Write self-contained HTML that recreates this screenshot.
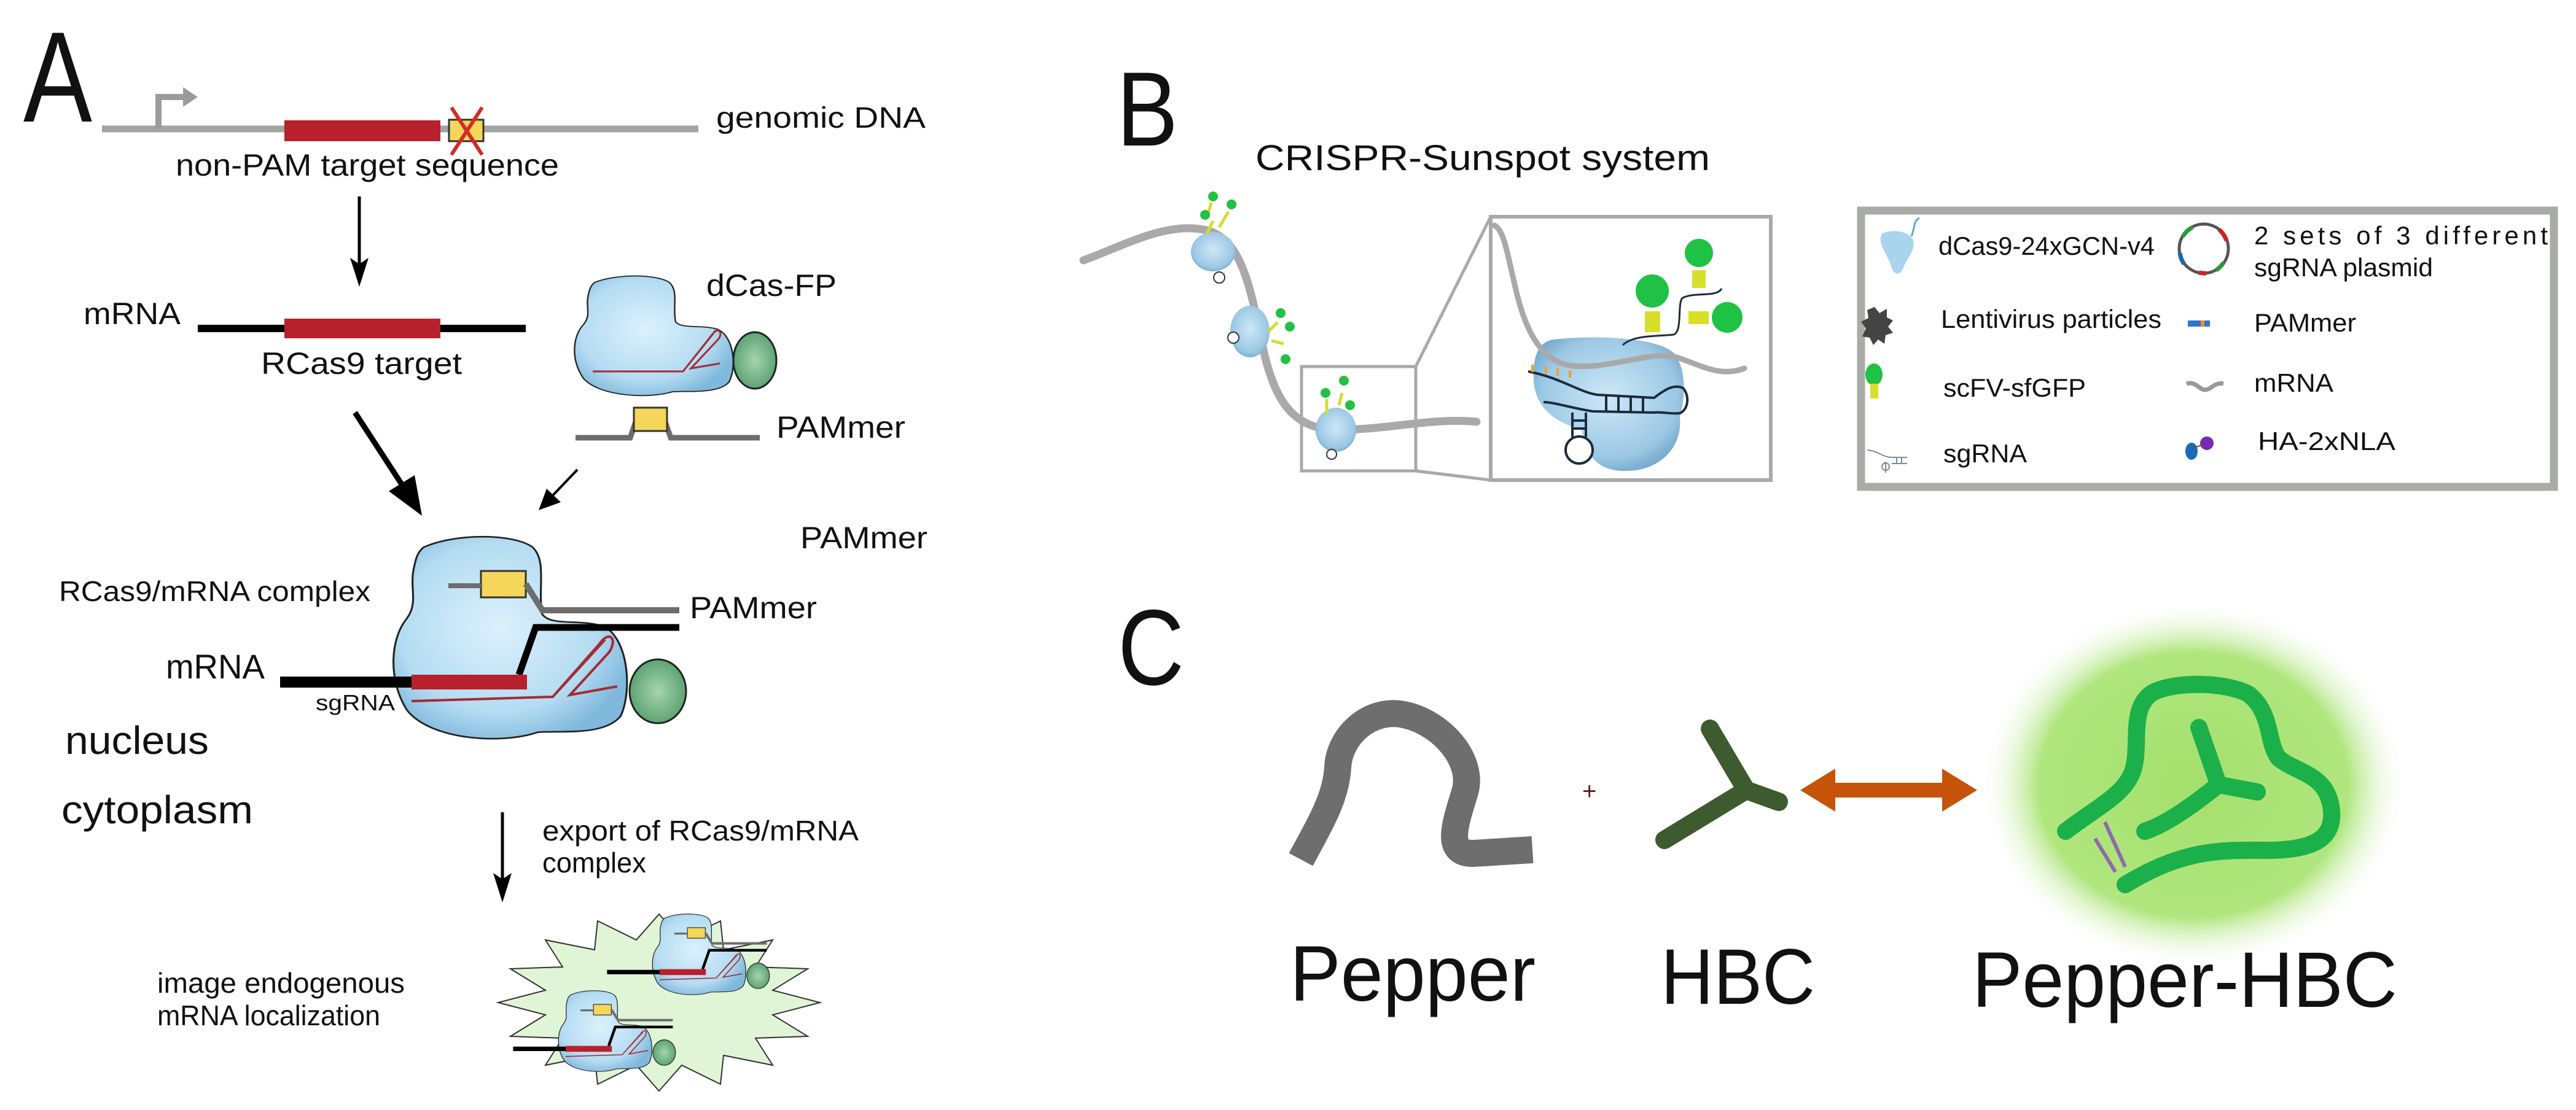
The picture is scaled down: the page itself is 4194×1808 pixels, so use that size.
<!DOCTYPE html>
<html><head><meta charset="utf-8"><style>
html,body{margin:0;padding:0;background:#fff}
svg{display:block}
text{font-family:"Liberation Sans",Arial,sans-serif;fill:#111}
</style></head><body>
<svg width="4194" height="1808" viewBox="0 0 4194 1808" xmlns="http://www.w3.org/2000/svg">
<defs>
<radialGradient id="blu" cx="0.45" cy="0.45" r="0.6">
<stop offset="0" stop-color="#dcf1fc"/><stop offset="0.7" stop-color="#b4dcf2"/><stop offset="1" stop-color="#7fb8dc"/></radialGradient>
<radialGradient id="blu2" cx="0.5" cy="0.45" r="0.6">
<stop offset="0" stop-color="#cde8f8"/><stop offset="0.75" stop-color="#9cc8e4"/><stop offset="1" stop-color="#6fa5cc"/></radialGradient>
<radialGradient id="grn" cx="0.5" cy="0.5" r="0.6">
<stop offset="0" stop-color="#a6d4b0"/><stop offset="1" stop-color="#4f9a66"/></radialGradient>
<radialGradient id="glow" cx="0.5" cy="0.5" r="0.5">
<stop offset="0" stop-color="#a4e06c"/><stop offset="0.72" stop-color="#b0e67e"/><stop offset="1" stop-color="#ffffff" stop-opacity="0"/></radialGradient>
<path id="blob" d="M12,5 C25,-2 50,-2 58,5 C64,12 60,25 62,38 C66,44 78,40 88,44 C98,50 100,75 95,88 C88,98 70,95 60,96 C45,102 15,100 5,85 C-3,70 -2,50 5,40 C10,32 6,25 8,15 C9,9 10,7 12,5 Z"/>
<g id="cx">
<use href="#blob" transform="translate(643,875) scale(3.87,3.31)" fill="url(#blu)" stroke="#222" stroke-width="0.8"/>
<ellipse cx="1071" cy="1126" rx="46" ry="52" fill="url(#grn)" stroke="#222" stroke-width="3"/>
<rect x="783" y="930" width="73" height="43" fill="#f4d65a" stroke="#333" stroke-width="3"/>
<line x1="730" y1="954" x2="783" y2="954" stroke="#6d6d6d" stroke-width="8"/>
<polyline points="856,951 883,994 1106,994" fill="none" stroke="#6d6d6d" stroke-width="10"/>
<polyline points="845,1099 872,1022 1106,1022" fill="none" stroke="#000" stroke-width="11"/>
<line x1="456" y1="1111" x2="672" y2="1111" stroke="#000" stroke-width="18"/>
<rect x="670" y="1099" width="188" height="24" fill="#b8202c"/>
<path d="M670,1142 L900,1135 L975,1050 C992,1025 1006,1040 992,1062 L928,1132 L1005,1118 M900,1135 L985,1042" fill="none" stroke="#a52a35" stroke-width="4"/>
</g>
</defs>

<!-- PANEL A -->
<text x="38" y="198" font-size="210" textLength="112" lengthAdjust="spacingAndGlyphs">A</text>
<line x1="166" y1="210" x2="1137" y2="210" stroke="#a2a4a2" stroke-width="11"/>
<path d="M258,210 L258,158 L303,158" fill="none" stroke="#9a9c9a" stroke-width="10"/>
<polygon points="298,142 322,158 298,174" fill="#9a9c9a"/>
<rect x="463" y="196" width="254" height="34" fill="#b8202c"/>
<rect x="731" y="195" width="56" height="35" fill="#f4d65a" stroke="#333" stroke-width="3"/>
<line x1="735" y1="175" x2="785" y2="252" stroke="#d42a2a" stroke-width="6"/>
<line x1="785" y1="175" x2="735" y2="252" stroke="#d42a2a" stroke-width="6"/>
<text x="1166" y="208" font-size="48" textLength="341" lengthAdjust="spacingAndGlyphs">genomic DNA</text>
<text x="286" y="286" font-size="50" textLength="624" lengthAdjust="spacingAndGlyphs">non-PAM target sequence</text>
<line x1="585" y1="320" x2="585" y2="440" stroke="#000" stroke-width="5"/>
<polygon points="570,420 585,467 600,420 585,430" fill="#000"/>

<text x="136" y="528" font-size="50" textLength="158" lengthAdjust="spacingAndGlyphs">mRNA</text>
<line x1="322" y1="535" x2="856" y2="535" stroke="#000" stroke-width="12"/>
<rect x="463" y="519" width="254" height="32" fill="#b8202c"/>
<text x="425" y="609" font-size="50" textLength="327" lengthAdjust="spacingAndGlyphs">RCas9 target</text>

<use href="#blob" transform="translate(937,450) scale(2.63,1.96)" fill="url(#blu)" stroke="#222" stroke-width="0.9"/>
<ellipse cx="1229" cy="587" rx="35" ry="46" fill="url(#grn)" stroke="#222" stroke-width="3"/>
<path d="M965,605 L1112,605 L1160,545 C1168,532 1178,540 1170,552 L1125,600 L1172,592 M1112,605 L1165,538" fill="none" stroke="#a52a35" stroke-width="3"/>
<text x="1150" y="482" font-size="50" textLength="212" lengthAdjust="spacingAndGlyphs">dCas-FP</text>
<polyline points="937,713 1026,713 1034,690 1084,690 1092,713 1237,713" fill="none" stroke="#6d6d6d" stroke-width="9"/>
<rect x="1032" y="664" width="54" height="38" fill="#f4d65a" stroke="#333" stroke-width="3"/>
<text x="1264" y="713" font-size="50" textLength="210" lengthAdjust="spacingAndGlyphs">PAMmer</text>

<line x1="578" y1="672" x2="660" y2="798" stroke="#000" stroke-width="9"/>
<polygon points="687,840 633,800 675,774" fill="#000"/>
<line x1="940" y1="765" x2="898" y2="809" stroke="#000" stroke-width="4"/>
<polygon points="877,831 913,818 890,796" fill="#000"/>

<text x="1303" y="893" font-size="50" textLength="207" lengthAdjust="spacingAndGlyphs">PAMmer</text>
<use href="#cx"/>
<text x="96" y="979" font-size="46" textLength="507" lengthAdjust="spacingAndGlyphs">RCas9/mRNA complex</text>
<text x="1123" y="1007" font-size="50" textLength="207" lengthAdjust="spacingAndGlyphs">PAMmer</text>
<text x="270" y="1105" font-size="56" textLength="161" lengthAdjust="spacingAndGlyphs">mRNA</text>
<text x="514" y="1157" font-size="36" textLength="129" lengthAdjust="spacingAndGlyphs">sgRNA</text>
<text x="106" y="1228" font-size="64" textLength="234" lengthAdjust="spacingAndGlyphs">nucleus</text>
<text x="100" y="1341" font-size="64" textLength="312" lengthAdjust="spacingAndGlyphs">cytoplasm</text>

<line x1="818" y1="1323" x2="818" y2="1440" stroke="#000" stroke-width="5"/>
<polygon points="803,1422 818,1470 833,1422 818,1432" fill="#000"/>
<text x="883" y="1369" font-size="46" textLength="515" lengthAdjust="spacingAndGlyphs">export   of   RCas9/mRNA</text>
<text x="883" y="1421" font-size="46" textLength="169" lengthAdjust="spacingAndGlyphs">complex</text>
<text x="256" y="1617" font-size="46" textLength="403" lengthAdjust="spacingAndGlyphs">image   endogenous</text>
<text x="256" y="1670" font-size="46" textLength="363" lengthAdjust="spacingAndGlyphs">mRNA localization</text>

<polygon points="1335,1633 1258,1653 1315,1688 1230,1691 1258,1735 1178,1719 1173,1766 1110,1735 1073,1777 1036,1735 973,1766 968,1719 888,1735 916,1691 831,1688 888,1653 811,1633 888,1613 831,1578 916,1575 888,1531 968,1547 973,1500 1036,1531 1073,1489 1110,1531 1173,1500 1178,1547 1258,1531 1230,1575 1315,1578 1258,1613" fill="#dff5d6" stroke="#333" stroke-width="2"/>
<use href="#cx" transform="translate(806,1139) scale(0.4)"/>
<use href="#cx" transform="translate(653,1264) scale(0.4)"/>

<!-- PANEL B -->
<text x="1818" y="237" font-size="172" textLength="100" lengthAdjust="spacingAndGlyphs">B</text>
<text x="2044" y="277" font-size="58" textLength="740" lengthAdjust="spacingAndGlyphs">CRISPR-Sunspot system</text>
<path d="M1764,424 C1830,400 1900,360 1964,375 C2030,390 2040,500 2060,583 C2080,660 2110,700 2180,700 C2260,700 2330,680 2404,687" fill="none" stroke="#a9a9a9" stroke-width="13" stroke-linecap="round"/>
<ellipse cx="1975" cy="410" rx="36" ry="32" fill="url(#blu2)"/>
<circle cx="1985" cy="452" r="9" fill="#fff" stroke="#333" stroke-width="2"/>
<path d="M1965,380 L1975,360 M1985,370 L2000,345 M1965,355 L1972,330" stroke="#d6dc30" stroke-width="5"/>
<circle cx="1975" cy="320" r="8" fill="#22c045"/><circle cx="1962" cy="350" r="8" fill="#22c045"/><circle cx="2005" cy="333" r="8" fill="#22c045"/>
<ellipse cx="2035" cy="540" rx="32" ry="42" fill="url(#blu2)"/>
<circle cx="2008" cy="550" r="9" fill="#fff" stroke="#333" stroke-width="2"/>
<path d="M2065,540 L2080,525 M2070,555 L2090,560" stroke="#d6dc30" stroke-width="5"/>
<circle cx="2085" cy="510" r="8" fill="#22c045"/><circle cx="2100" cy="532" r="8" fill="#22c045"/><circle cx="2093" cy="585" r="8" fill="#22c045"/>
<ellipse cx="2175" cy="700" rx="33" ry="36" fill="url(#blu2)"/>
<circle cx="2168" cy="740" r="8" fill="#fff" stroke="#333" stroke-width="2"/>
<path d="M2160,675 L2160,650 M2180,660 L2185,640" stroke="#d6dc30" stroke-width="5"/>
<circle cx="2158" cy="640" r="8" fill="#22c045"/><circle cx="2188" cy="620" r="8" fill="#22c045"/><circle cx="2198" cy="660" r="8" fill="#22c045"/>
<rect x="2119" y="597" width="186" height="170" fill="none" stroke="#a9a9a9" stroke-width="5"/>
<line x1="2305" y1="597" x2="2427" y2="353" stroke="#a9a9a9" stroke-width="5"/>
<line x1="2305" y1="767" x2="2427" y2="782" stroke="#a9a9a9" stroke-width="5"/>
<rect x="2427" y="353" width="456" height="429" fill="none" stroke="#a9a9a9" stroke-width="6"/>
<path d="M2530,553 C2600,545 2700,550 2725,575 C2745,600 2745,640 2735,680 C2740,730 2700,770 2640,767 C2600,765 2580,740 2575,700 C2540,690 2500,670 2497,620 C2495,580 2505,556 2530,553 Z" fill="url(#blu2)"/>
<path d="M2433,367 C2450,375 2455,420 2470,480 C2485,540 2510,590 2560,596 C2620,602 2690,570 2730,582 C2770,595 2800,615 2840,600" fill="none" stroke="#a9a9a9" stroke-width="9" stroke-linecap="round"/>
<path d="M2488,605 C2540,615 2570,638 2600,643 L2693,648 C2710,635 2725,625 2740,632 C2752,645 2748,668 2735,673 C2720,675 2705,670 2693,672 L2593,670 C2560,665 2530,655 2513,655" fill="none" stroke="#1c2c3c" stroke-width="4"/>
<path d="M2615,645 V670 M2635,646 V670 M2655,647 V671 M2675,647 V672" stroke="#1c2c3c" stroke-width="4"/>
<path d="M2560,672 V712 M2582,672 V712 M2560,685 H2582 M2560,698 H2582" stroke="#1c2c3c" stroke-width="4"/>
<circle cx="2571" cy="733" r="22" fill="#fff" stroke="#1c2c3c" stroke-width="4"/>
<path d="M2495,594 V606 M2517,597 V609 M2536,600 V612 M2556,603 V615" stroke="#f0a030" stroke-width="4"/>
<path d="M2642,562 C2660,545 2700,548 2725,545 C2740,540 2730,490 2740,485 C2760,475 2795,485 2803,470" fill="none" stroke="#1c2c3c" stroke-width="3"/>
<rect x="2678" y="507" width="25" height="34" fill="#d8df2a"/><circle cx="2690" cy="474" r="27" fill="#1fc244"/>
<rect x="2755" y="440" width="22" height="29" fill="#d8df2a"/><circle cx="2766" cy="412" r="23" fill="#1fc244"/>
<rect x="2749" y="507" width="33" height="21" fill="#d8df2a"/><circle cx="2812" cy="517" r="25" fill="#1fc244"/>

<!-- legend -->
<rect x="3030" y="343" width="1128" height="450" fill="#fff" stroke="#a8aca8" stroke-width="13"/>
<path d="M3065,380 C3085,372 3110,378 3115,392 C3118,410 3105,420 3098,438 C3092,450 3082,448 3078,430 C3070,410 3055,392 3065,380 Z" fill="#a8d4ee"/>
<path d="M3112,385 C3118,370 3115,360 3125,355" fill="none" stroke="#5aaad8" stroke-width="3"/>
<text x="3156" y="415" font-size="42" textLength="352" lengthAdjust="spacingAndGlyphs">dCas9-24xGCN-v4</text>
<circle cx="3588" cy="405" r="40" fill="none" stroke="#555" stroke-width="5"/>
<path d="M3554,385 A40,40 0 0 1 3570,370" stroke="#2a9a3a" stroke-width="7" fill="none"/>
<path d="M3613,374 A40,40 0 0 1 3625,392" stroke="#d02020" stroke-width="7" fill="none"/>
<path d="M3549,412 A40,40 0 0 0 3556,430" stroke="#1a68b8" stroke-width="7" fill="none"/>
<path d="M3620,428 A40,40 0 0 1 3608,440" stroke="#2a9a3a" stroke-width="7" fill="none"/>
<path d="M3580,444 A40,40 0 0 0 3592,445" stroke="#d02020" stroke-width="7" fill="none"/>
<text x="3670" y="398" font-size="42" textLength="478" lengthAdjust="spacing">2 sets of 3 different</text>
<text x="3670" y="450" font-size="42" textLength="291" lengthAdjust="spacingAndGlyphs">sgRNA plasmid</text>
<polygon points="3052,500 3060,510 3072,503 3072,517 3082,522 3074,532 3082,542 3070,546 3068,560 3058,553 3050,562 3044,550 3032,548 3038,535 3030,524 3042,518 3040,505" fill="#444"/>
<text x="3160" y="534" font-size="42" textLength="359" lengthAdjust="spacingAndGlyphs">Lentivirus particles</text>
<rect x="3562" y="522" width="36" height="10" fill="#2a7ac8"/><rect x="3583" y="522" width="6" height="10" fill="#f08a30"/>
<text x="3670" y="540" font-size="42" textLength="166" lengthAdjust="spacingAndGlyphs">PAMmer</text>
<ellipse cx="3051" cy="610" rx="14" ry="18" fill="#1fc244"/><rect x="3045" y="625" width="13" height="24" fill="#d8df2a"/>
<text x="3164" y="646" font-size="42" textLength="232" lengthAdjust="spacingAndGlyphs">scFV-sfGFP</text>
<path d="M3560,625 C3575,620 3580,635 3590,635 C3600,635 3605,622 3620,625" fill="none" stroke="#999" stroke-width="7"/>
<text x="3670" y="638" font-size="42" textLength="129" lengthAdjust="spacingAndGlyphs">mRNA</text>
<path d="M3040,733 C3060,735 3065,745 3080,745 L3105,745 M3080,755 L3105,755 M3088,745 V755 M3096,745 V755 M3070,752 V770" fill="none" stroke="#7a8a98" stroke-width="2"/>
<circle cx="3070" cy="760" r="6" fill="none" stroke="#7a8a98" stroke-width="2"/>
<text x="3164" y="753" font-size="42" textLength="136" lengthAdjust="spacingAndGlyphs">sgRNA</text>
<ellipse cx="3568" cy="735" rx="10" ry="14" fill="#1a6ab8"/>
<ellipse cx="3593" cy="722" rx="11" ry="11" fill="#7a28b0"/>
<line x1="3570" y1="730" x2="3588" y2="724" stroke="#555" stroke-width="2"/>
<text x="3676" y="733" font-size="42" textLength="224" lengthAdjust="spacingAndGlyphs">HA-2xNLA</text>

<!-- PANEL C -->
<text x="1820" y="1115" font-size="175" textLength="108" lengthAdjust="spacingAndGlyphs">C</text>
<path d="M2118,1400 C2150,1340 2175,1300 2178,1250 C2180,1200 2230,1150 2290,1165 C2350,1180 2400,1240 2385,1290 C2370,1340 2350,1392 2400,1390 L2495,1384" fill="none" stroke="#6e6e6e" stroke-width="44"/>
<text x="2576" y="1302" font-size="40" style="fill:#6a1a1a">+</text>
<g stroke="#3e5a2f" stroke-width="30" stroke-linecap="round">
<line x1="2843" y1="1287" x2="2784" y2="1187"/>
<line x1="2843" y1="1287" x2="2710" y2="1368"/>
<line x1="2843" y1="1287" x2="2896" y2="1306"/>
</g>
<polygon points="2931,1287 2988,1252 2988,1275 3162,1275 3162,1252 3219,1287 3162,1322 3162,1299 2988,1299 2988,1322" fill="#c5530a"/>
<ellipse cx="3571" cy="1278" rx="350" ry="300" fill="url(#glow)"/>
<path d="M3363,1354 C3420,1310 3470,1290 3476,1240 C3482,1200 3470,1150 3505,1128 C3540,1110 3620,1110 3660,1130 C3700,1160 3690,1210 3710,1235 C3740,1260 3790,1260 3796,1320 C3800,1370 3760,1383 3700,1385 C3620,1385 3560,1380 3460,1441" fill="none" stroke="#1cb04a" stroke-width="28" stroke-linecap="round"/>
<path d="M3580,1185 L3612,1278 L3675,1290 M3612,1278 C3560,1320 3520,1345 3492,1354" fill="none" stroke="#1cb04a" stroke-width="28" stroke-linecap="round"/>
<line x1="3427" y1="1339" x2="3460" y2="1412" stroke="#8f6aa8" stroke-width="6"/>
<line x1="3411" y1="1366" x2="3444" y2="1420" stroke="#8f6aa8" stroke-width="6"/>
<text x="2100" y="1630" font-size="128" textLength="400" lengthAdjust="spacingAndGlyphs">Pepper</text>
<text x="2704" y="1635" font-size="128" textLength="251" lengthAdjust="spacingAndGlyphs">HBC</text>
<text x="3211" y="1640" font-size="128" textLength="692" lengthAdjust="spacingAndGlyphs">Pepper-HBC</text>
</svg>
</body></html>
